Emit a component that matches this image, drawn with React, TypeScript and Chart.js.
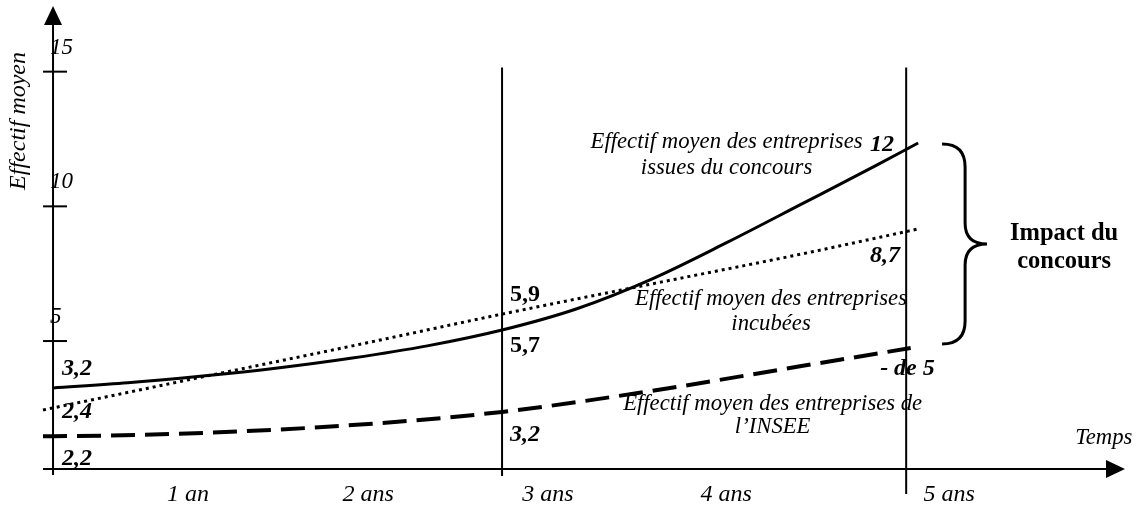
import React, { useEffect, useRef } from "react";
import { Chart, registerables } from "chart.js";

Chart.register(...registerables);

// ---------------- data ----------------
// x unit: schematic "time" where the 3-year marker sits at 3
const concoursX = [0, 0.5, 1, 1.5, 2, 2.5, 3, 3.5, 4, 4.5, 5, 5.5, 5.78];
const concoursY = [3.26, 3.45, 3.7, 4.0, 4.37, 4.82, 5.41, 6.2, 7.3, 8.65, 10.08, 11.52, 12.35];

const incubX = [-0.067, 1, 2, 3, 4, 5, 5.78];
const incubY = [2.44, 3.67, 4.82, 6.0, 7.12, 8.23, 9.16];

const inseeX = [-0.067, 0, 1, 2, 3, 4, 5, 5.73];
const inseeY = [1.47, 1.47, 1.59, 1.88, 2.37, 3.15, 4.07, 4.74];

const xTickLabels = ["1 an", "2 ans", "3 ans", "4 ans", "5 ans"];
const xTickAt = [0.902, 2.105, 3.307, 4.497, 5.987];
const yTickValues = [5, 10, 15];
const markerYears = [3, 5.7];

const startLabels = ["3,2", "2,4", "2,2"];
const midLabels = ["5,9", "5,7", "3,2"];
const endLabels = ["12", "8,7", "- de 5"];

const concoursName = ["Effectif moyen des entreprises", "issues du concours"];
const incubName = ["Effectif moyen des entreprises", "incubées"];
const inseeName = ["Effectif moyen des entreprises de", "l\u2019INSEE"];
const impactText = ["Impact du", "concours"];
const yTitle = "Effectif moyen";
const xTitle = "Temps";

// ---------------- layout / style constants ----------------
const FONT = "'Liberation Serif', 'Times New Roman', serif";
const X_MIN = -0.067;
const X_MAX = 7.162;
const Y_MIN = 0.25;
const Y_MAX = 17.4;
const MARKER_TOP = 15.15;

const overlayPlugin = {
  id: "overlay",
  afterDraw(chart: any) {
    const { ctx, chartArea: ca, scales } = chart;
    const xs = scales.x;
    const ys = scales.y;
    const X = (v: number) => xs.getPixelForValue(v);
    const Y = (v: number) => ys.getPixelForValue(v);
    ctx.save();
    ctx.strokeStyle = "#000";
    ctx.fillStyle = "#000";
    ctx.lineCap = "butt";

    const ax = X(0);
    const ay = ca.bottom;

    // y axis with arrow
    ctx.lineWidth = 2;
    ctx.beginPath();
    ctx.moveTo(ax, ay + 6);
    ctx.lineTo(ax, ca.top + 14);
    ctx.stroke();
    ctx.beginPath();
    ctx.moveTo(ax, ca.top - 1);
    ctx.lineTo(ax - 9, ca.top + 18);
    ctx.lineTo(ax + 9, ca.top + 18);
    ctx.closePath();
    ctx.fill();

    // x axis with arrow
    ctx.beginPath();
    ctx.moveTo(ca.left, ay);
    ctx.lineTo(ca.right - 14, ay);
    ctx.stroke();
    ctx.beginPath();
    ctx.moveTo(ca.right, ay);
    ctx.lineTo(ca.right - 19, ay - 9);
    ctx.lineTo(ca.right - 19, ay + 9);
    ctx.closePath();
    ctx.fill();

    // y tick marks
    yTickValues.forEach((v) => {
      ctx.beginPath();
      ctx.moveTo(ax - 10, Y(v));
      ctx.lineTo(ax + 14, Y(v));
      ctx.stroke();
    });

    // vertical year markers
    const ext = [7, 25];
    markerYears.forEach((m, i) => {
      ctx.beginPath();
      ctx.moveTo(X(m), Y(MARKER_TOP));
      ctx.lineTo(X(m), ay + ext[i]);
      ctx.stroke();
    });

    const txt = (s: string, x: number, y: number, font: string, align: CanvasTextAlign = "left") => {
      ctx.font = font;
      ctx.textAlign = align;
      ctx.textBaseline = "alphabetic";
      ctx.fillText(s, x, y);
    };

    const it = `italic 22.7px ${FONT}`;
    const bi = `italic bold 24px ${FONT}`;
    const b = `bold 24px ${FONT}`;

    // series names
    txt(concoursName[0], X(4.5), Y(12.17), it, "center");
    txt(concoursName[1], X(4.5), Y(11.2), it, "center");
    txt(incubName[0], X(4.797), Y(6.34), it, "center");
    txt(incubName[1], X(4.797), Y(5.41), it, "center");
    txt(inseeName[0], X(4.808), Y(2.44), it, "center");
    txt(inseeName[1], X(4.808), Y(1.59), it, "center");

    // values
    txt(startLabels[0], X(0.06), Y(3.74), bi);
    txt(startLabels[1], X(0.06), Y(2.14), bi);
    txt(startLabels[2], X(0.06), Y(0.4), bi);
    txt(midLabels[0], X(3.053), Y(6.49), b);
    txt(midLabels[1], X(3.053), Y(4.59), b);
    txt(midLabels[2], X(3.053), Y(1.29), bi);
    txt(endLabels[0], X(5.459), Y(12.05), bi);
    txt(endLabels[1], X(5.459), Y(7.93), bi);
    txt(endLabels[2], X(5.526), Y(3.74), bi);

    // brace
    const bx = X(5.94);
    const vx = bx + 23;
    const px = X(6.24);
    const t = Y(12.31);
    const bt = Y(4.89);
    const mid = (t + bt) / 2;
    ctx.lineWidth = 3;
    ctx.beginPath();
    ctx.moveTo(bx, t);
    ctx.quadraticCurveTo(vx, t, vx, t + 23);
    ctx.lineTo(vx, mid - 21);
    ctx.quadraticCurveTo(vx, mid, px, mid);
    ctx.quadraticCurveTo(vx, mid, vx, mid + 21);
    ctx.lineTo(vx, bt - 23);
    ctx.quadraticCurveTo(vx, bt, bx, bt);
    ctx.stroke();

    const bb = `bold 24.5px ${FONT}`;
    txt(impactText[0], X(6.755), Y(8.75), bb, "center");
    txt(impactText[1], X(6.755), Y(7.71), bb, "center");

    // axis titles
    txt(xTitle, X(7.02), Y(1.18), it, "center");
    ctx.save();
    ctx.translate(ax - 34, Y(13.17));
    ctx.rotate(-Math.PI / 2);
    ctx.font = `italic 24px ${FONT}`;
    ctx.textAlign = "center";
    ctx.textBaseline = "middle";
    ctx.fillText(yTitle, 0, 0);
    ctx.restore();

    ctx.restore();
  },
};

const toPoints = (xs: number[], ys: number[]) => xs.map((x, i) => ({ x, y: ys[i] }));

export default function App() {
  const ref = useRef<HTMLCanvasElement | null>(null);

  useEffect(() => {
    if (!ref.current) return;
    const chart = new Chart(ref.current, {
      type: "line",
      data: {
        datasets: [
          {
            label: "concours",
            data: toPoints(concoursX, concoursY),
            borderColor: "#000",
            borderWidth: 3,
            pointRadius: 0,
            cubicInterpolationMode: "monotone",
            fill: false,
            clip: false,
          },
          {
            label: "incubées",
            data: toPoints(incubX, incubY),
            borderColor: "#000",
            borderWidth: 3,
            borderDash: [3, 4],
            pointRadius: 0,
            cubicInterpolationMode: "monotone",
            fill: false,
            clip: false,
          },
          {
            label: "INSEE",
            data: toPoints(inseeX, inseeY),
            borderColor: "#000",
            borderWidth: 4,
            borderDash: [24, 10],
            pointRadius: 0,
            cubicInterpolationMode: "monotone",
            fill: false,
            clip: false,
          },
        ],
      },
      options: {
        animation: false,
        responsive: false,
        layout: { padding: { left: 43, right: 17, top: 7, bottom: 0 } },
        plugins: { legend: { display: false }, tooltip: { enabled: false } },
        elements: { point: { radius: 0 } },
        scales: {
          x: {
            type: "linear",
            min: X_MIN,
            max: X_MAX,
            grid: { display: false, drawTicks: false },
            border: { display: false },
            afterBuildTicks: (s: any) => {
              s.ticks = xTickAt.map((v) => ({ value: v }));
            },
            afterFit: (s: any) => {
              s.height = 39;
              s.paddingLeft = 0;
              s.paddingRight = 0;
            },
            ticks: {
              autoSkip: false,
              maxRotation: 0,
              minRotation: 0,
              padding: 11,
              color: "#000",
              font: { family: FONT, size: 24, style: "italic" },
              callback: (_v: any, i: number) => xTickLabels[i],
            },
          },
          y: {
            type: "linear",
            min: Y_MIN,
            max: Y_MAX,
            grid: { display: false, drawTicks: false },
            border: { display: false },
            afterBuildTicks: (s: any) => {
              s.ticks = yTickValues.map((v) => ({ value: v }));
            },
            afterFit: (s: any) => {
              s.width = 0;
              s.paddingTop = 0;
              s.paddingBottom = 0;
            },
            ticks: {
              mirror: true,
              padding: 7,
              labelOffset: -24,
              color: "#000",
              font: { family: FONT, size: 23, style: "italic" },
              callback: (v: any) => String(v),
            },
          },
        },
      },
      plugins: [overlayPlugin],
    } as any);
    return () => chart.destroy();
  }, []);

  return (
    <div style={{ position: "fixed", left: 0, top: 0, width: 1142, height: 508, background: "#fff" }}>
      <canvas ref={ref} width={1142} height={508} style={{ display: "block" }} />
    </div>
  );
}
